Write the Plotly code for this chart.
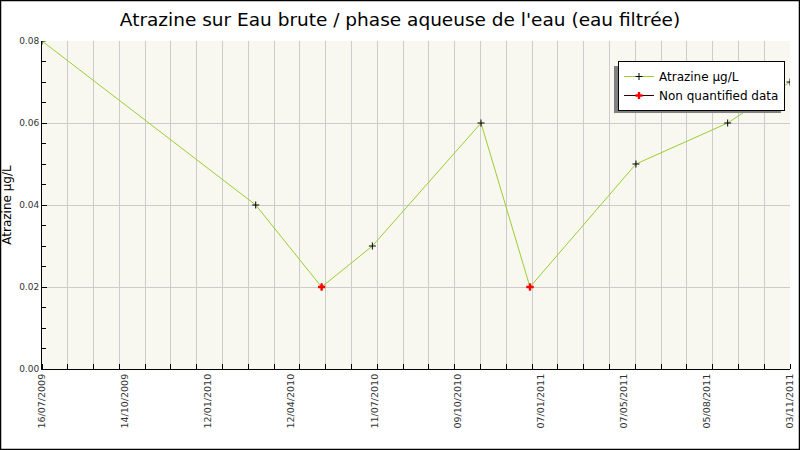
import plotly.graph_objects as go

# measured dates / values
dates = ["2009-07-16", "2010-03-13", "2010-05-26", "2010-07-22", "2010-11-21",
         "2011-01-15", "2011-05-14", "2011-08-25", "2011-11-03"]
atrazine = [0.08, 0.04, 0.02, 0.03, 0.06, 0.02, 0.05, 0.06, 0.07]
non_quantified = [False, False, True, False, False, True, False, False, False]

tick_labels = ["16/07/2009", "14/10/2009", "12/01/2010", "12/04/2010", "11/07/2010",
               "09/10/2010", "07/01/2011", "07/05/2011", "05/08/2011", "03/11/2011"]

W, H = 800, 450
L, R, T, B = 42, 10, 41, 81
PW, PH = W - L - R, H - T - B

DAY_MS = 86400000
start_ms = 1247702400000  # 2009-07-16
span_days = 840
label_ms = [start_ms + i * span_days / 9 * DAY_MS for i in range(10)]


def px(x):
    return (x - L) / PW


def py(y):
    return (H - B - y) / PH


nq_x, nq_y = [], []
for d, v, nq in zip(dates, atrazine, non_quantified):
    if nq:
        nq_x += [d, None]
        nq_y += [v, None]

fig = go.Figure()
fig.add_trace(go.Scatter(
    x=dates, y=atrazine, mode="lines+markers", name="Atrazine µg/L",
    line=dict(color="#9acd32", width=1),
    marker=dict(symbol="cross-thin", size=5, color="black",
                line=dict(color="black", width=1)),
))
fig.add_trace(go.Scatter(
    x=nq_x, y=nq_y, mode="lines+markers", name="Non quantified data",
    connectgaps=False,
    line=dict(color="#330000", width=1),
    marker=dict(symbol="cross", size=6, color="red",
                line=dict(color="red", width=0)),
))

fig.update_layout(
    width=W, height=H,
    margin=dict(l=L, r=R, t=T, b=B),
    paper_bgcolor="white",
    plot_bgcolor="#f8f8f0",
    font=dict(family="DejaVu Sans", color="black"),
    title=dict(text="Atrazine sur Eau brute / phase aqueuse de l'eau (eau filtrée)",
               x=0.5, xanchor="center", y=1 - 20 / H, yanchor="middle",
               font=dict(size=18.5, family="DejaVu Sans")),
    showlegend=True,
    legend=dict(x=px(785), y=py(61), xanchor="right", yanchor="top",
                bgcolor="white", bordercolor="black", borderwidth=1,
                font=dict(size=12), tracegroupgap=0, itemwidth=30),
    shapes=[
        dict(type="rect", xref="paper", yref="paper",
             x0=px(614), x1=px(781), y0=py(113), y1=py(66),
             fillcolor="#808080", line=dict(width=0), layer="above"),
        dict(type="rect", xref="paper", yref="paper",
             x0=px(0.5), x1=px(W - 0.5), y0=py(H - 0.5), y1=py(0.5),
             line=dict(color="black", width=1.5), layer="above"),
    ],
)

fig.update_xaxes(
    type="date", automargin=False,
    range=["2009-07-16", "2011-11-03"],
    tickmode="array", tickvals=label_ms, ticktext=tick_labels,
    tickangle=-90, tickfont=dict(size=9.5, family="DejaVu Sans", color="#333"),
    ticks="", showgrid=False,
    showline=True, linecolor="black", linewidth=1,
    zeroline=False,
    minor=dict(tick0="2009-07-16", dtick=span_days / 29 * DAY_MS,
               showgrid=True, gridcolor="#cccccc", gridwidth=1,
               ticks="inside", ticklen=5, tickcolor="black"),
)
fig.update_yaxes(
    automargin=False,
    range=[0, 0.08], dtick=0.02, tickformat=".2f",
    tickfont=dict(size=9, family="DejaVu Sans", color="#333"),
    ticks="inside", ticklen=5, tickcolor="black",
    showgrid=True, gridcolor="#cccccc", gridwidth=1,
    showline=True, linecolor="black", linewidth=1,
    zeroline=False,
    title=dict(text="Atrazine µg/L", font=dict(size=12), standoff=4),
    minor=dict(dtick=0.005, ticks="inside", ticklen=4, tickcolor="black",
               showgrid=False),
)

page_style = (
    "document.body.style.margin='0';"
    "document.body.style.overflow='hidden';"
    "document.documentElement.style.overflow='hidden';"
)
fig.write_html("out.html", post_script=page_style,
               config={"displayModeBar": False})
